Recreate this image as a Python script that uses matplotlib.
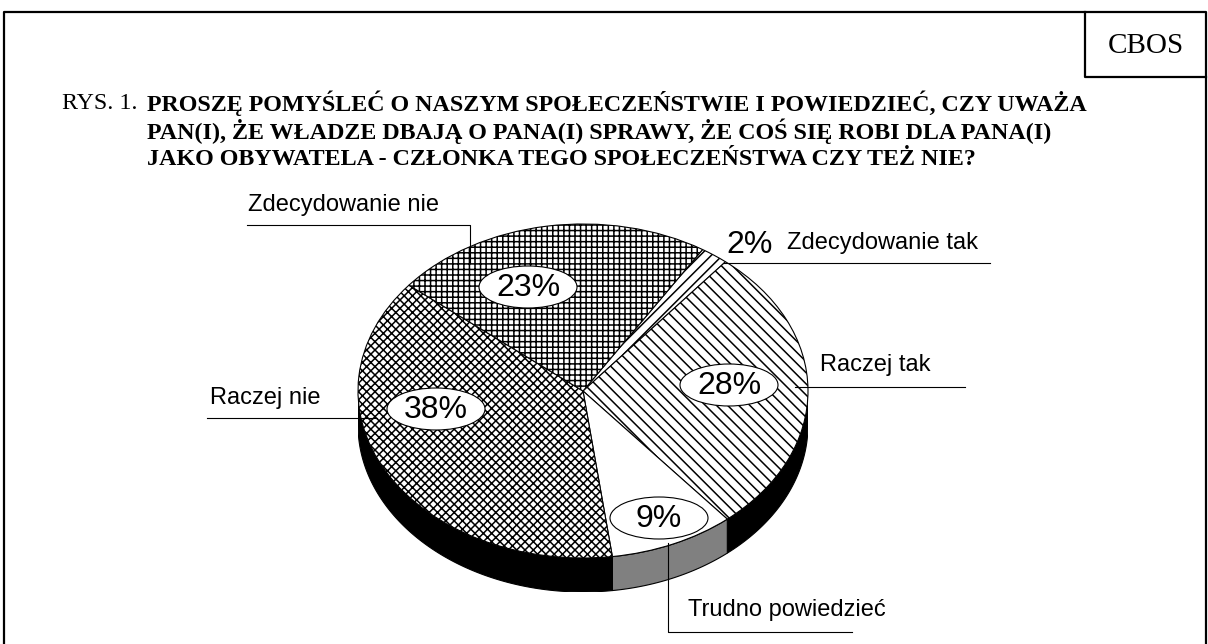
import numpy as np
import matplotlib.pyplot as plt
from matplotlib.patches import Ellipse

plt.rcParams['font.family'] = ['Liberation Sans', 'DejaVu Sans']
plt.rcParams['hatch.linewidth'] = 1.1

# dane (kolejność jak w wykresie, zgodnie z ruchem wskazówek zegara)
categories = ["Zdecydowanie tak", "Raczej tak", "Trudno powiedzieć", "Raczej nie", "Zdecydowanie nie"]
shares = [2, 28, 9, 38, 23]
pct_labels = ["2%", "28%", "9%", "38%", "23%"]
hatches = ["///", "\\\\\\", "", "xxxx", "+++"]
side_colors = ["black", "black", "#808080", "black", "black"]

title_lead = "RYS. 1."
title_lines = [
    "PROSZĘ POMYŚLEĆ O NASZYM SPOŁECZEŃSTWIE I POWIEDZIEĆ, CZY UWAŻA",
    "PAN(I), ŻE WŁADZE DBAJĄ O PANA(I) SPRAWY, ŻE COŚ SIĘ ROBI DLA PANA(I)",
    "JAKO OBYWATELA - CZŁONKA TEGO SPOŁECZEŃSTWA CZY TEŻ NIE?",
]

W, H = 1208, 644
fig = plt.figure(figsize=(W / 100, H / 100), dpi=100)

# tort 3D: górna elipsa 450x334 px, grubość boku 34 px
depth = 34 / 167
ax = fig.add_axes([358 / W, (H - 592) / H, 450 / W, 368 / H])
wedges, _ = ax.pie(shares, startangle=57.9, counterclock=False, hatch=hatches,
                   colors=["white"] * len(shares),
                   wedgeprops=dict(edgecolor="black", linewidth=0.8, zorder=3))

# widoczny bok tortu (dolna połowa)
for w, c in zip(wedges, side_colors):
    for k in (-360, 0, 360):
        lo = max(w.theta1, 180 + k)
        hi = min(w.theta2, 360 + k)
        if lo < hi:
            t = np.radians(np.linspace(lo, hi, 120))
            xs = np.concatenate([np.cos(t), np.cos(t[::-1])])
            ys = np.concatenate([np.sin(t), np.sin(t[::-1]) - depth])
            ax.fill(xs, ys, facecolor=c, edgecolor="black", linewidth=0.8, zorder=1)

ax.set_aspect('auto')
ax.set_xlim(-1, 1)
ax.set_ylim(-1 - depth, 1)
ax.axis('off')

# warstwa z ramką, tytułem i opisami (współrzędne w pikselach)
ov = fig.add_axes([0, 0, 1, 1])
ov.set_xlim(0, W)
ov.set_ylim(H, 0)
ov.axis('off')

ov.plot([4, 4, 1206, 1206], [H + 5, 12, 12, H + 5], color="black", lw=1.6)
ov.plot([1085, 1085, 1206], [12, 77, 77], color="black", lw=1.6)
ov.text(1146, 46, "CBOS", family="Liberation Serif", fontsize=21, ha="center", va="center")

ov.text(62, 103, title_lead, family="Liberation Serif", fontsize=17.3, va="center")
for i, line in enumerate(title_lines):
    ov.text(147, 103 + 28 * i, line, family="Liberation Serif", fontweight="bold",
            fontsize=17.3, va="center")

# etykiety procentowe
pct_pos = [(750, 244), (729, 385), (659, 518), (436, 409), (528, 287)]
for (x, y), lab in zip(pct_pos, pct_labels):
    if lab != "2%":
        ov.add_patch(Ellipse((x, y), 98, 42, facecolor="white", edgecolor="black", lw=0.8))
    ov.text(x, y + 1, lab, fontsize=23, ha="center", va="center")

# opisy kategorii z liniami odniesienia
lc = dict(color="black", lw=0.8)
ov.text(248, 205, categories[4], fontsize=17, va="center")
ov.plot([247, 470, 470], [225, 225, 262], **lc)

ov.text(787, 243, categories[0], fontsize=17, va="center")
ov.plot([723, 990], [263, 263], **lc)

ov.text(820, 365, categories[1], fontsize=17, va="center")
ov.plot([795, 965], [387, 387], **lc)

ov.text(210, 398, categories[3], fontsize=17, va="center")
ov.plot([207, 377], [418, 418], **lc)

ov.text(688, 610, categories[2], fontsize=17, va="center")
ov.plot([668, 668, 852], [543, 632, 632], **lc)

fig.savefig("out.png", dpi=100)
